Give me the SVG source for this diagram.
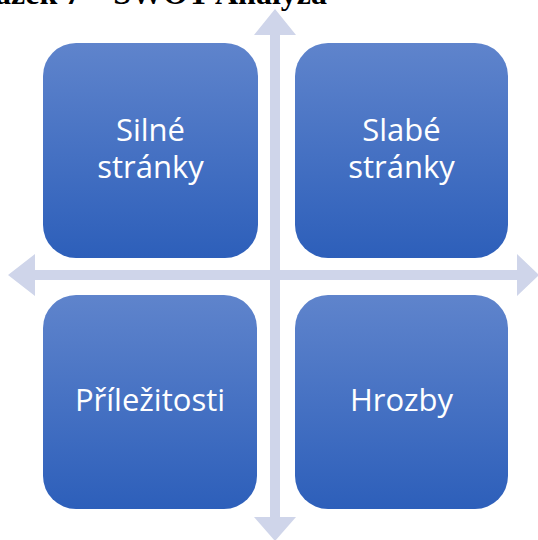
<svg xmlns="http://www.w3.org/2000/svg" width="538" height="540" viewBox="0 0 538 540">
  <style>
    .box { fill: url(#boxGrad); }
    .lbl { fill: #ffffff; font-family: "Open Sans", "Liberation Sans", sans-serif; font-size: 31px; text-anchor: middle; }
    .arrow { fill: #cfd5ea; }
    .caption { fill: #000000; font-family: "Liberation Serif", serif; font-weight: bold; font-size: 32px; text-anchor: end; }
  </style>
  <defs>
    <linearGradient id="boxGrad" x1="0" y1="0" x2="0" y2="1">
      <stop offset="0" stop-color="#5f84cc"/>
      <stop offset="1" stop-color="#2d5fba"/>
    </linearGradient>
  </defs>
  <rect width="538" height="540" fill="#ffffff"/>
  <text class="caption" x="327" y="4">Obrázek 7 – SWOT Analýza</text>
  <g id="connectors">
    <polygon class="arrow" points="275,9 296,35 280,35 280,517 296,517 275,541 254,517 270,517 270,35 254,35"/>
    <polygon class="arrow" points="8,275 35,254 35,270 517,270 517,254 539,275 517,296 517,280 35,280 35,296"/>
  </g>
  <g id="silne">
    <rect class="box" x="43" y="43" width="215" height="215" rx="33" ry="33"/>
    <text class="lbl" x="150.5" y="141">Silné</text>
    <text class="lbl" x="150.5" y="178">stránky</text>
  </g>
  <g id="slabe">
    <rect class="box" x="295" y="43" width="213" height="215" rx="33" ry="33"/>
    <text class="lbl" x="401.5" y="141">Slabé</text>
    <text class="lbl" x="401.5" y="178">stránky</text>
  </g>
  <g id="prilezitosti">
    <rect class="box" x="43" y="295" width="214" height="214" rx="33" ry="33"/>
    <text class="lbl" x="150" y="411">Příležitosti</text>
  </g>
  <g id="hrozby">
    <rect class="box" x="295" y="295" width="213" height="214" rx="33" ry="33"/>
    <text class="lbl" x="401.5" y="411">Hrozby</text>
  </g>
</svg>
